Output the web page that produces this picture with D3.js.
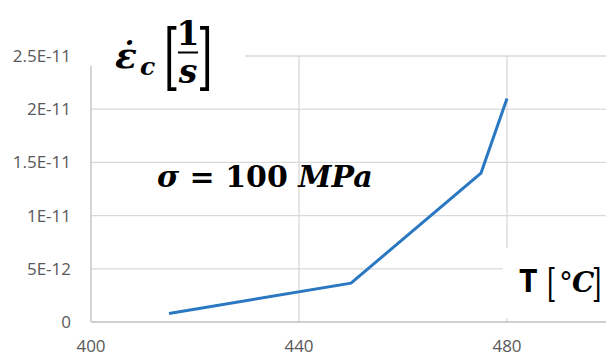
<!DOCTYPE html>
<html><head><meta charset="utf-8">
<script src="https://cdn.jsdelivr.net/npm/d3@7"></script>
<style>body{margin:0;background:#fff}svg{display:block}</style>
</head><body>
<script>
const temperatures = [415, 450, 475, 480];
const strainRates = [0.8e-12, 3.65e-12, 1.4e-11, 2.1e-11];
const yTicks = [0, 5e-12, 1e-11, 1.5e-11, 2e-11, 2.5e-11];
const yTickLabels = ["0", "5E-12", "1E-11", "1.5E-11", "2E-11", "2.5E-11"];
const xTicks = [400, 440, 480, 520];
const stressLabel = "σ = 100 MPa";

const W = 606, H = 356;
const svg = d3.select("body").append("svg").attr("width", W).attr("height", H);
const x = d3.scaleLinear().domain([400, 520]).range([91, 715]);
const y = d3.scaleLinear().domain([0, 2.5e-11]).range([322, 56]);
const right = W;

svg.append("defs").append("clipPath").attr("id","c").append("rect")
  .attr("x",0).attr("y",0).attr("width",W).attr("height",H);
const g = svg.append("g").attr("clip-path","url(#c)");

g.selectAll(".hg").data(yTicks.slice(1)).join("line")
  .attr("x1", x(400)).attr("x2", right).attr("y1", d=>y(d)).attr("y2", d=>y(d))
  .attr("stroke", "#d9d9d9").attr("stroke-width", 1.3);
g.selectAll(".vg").data(xTicks.slice(1)).join("line")
  .attr("x1", d=>x(d)).attr("x2", d=>x(d)).attr("y1", y(2.5e-11)).attr("y2", y(0))
  .attr("stroke", "#d9d9d9").attr("stroke-width", 1.3);
g.append("line").attr("x1", x(400)).attr("x2", x(400)).attr("y1", y(2.5e-11)).attr("y2", y(0))
  .attr("stroke", "#bfbfbf").attr("stroke-width", 1.3);
g.append("line").attr("x1", x(400)).attr("x2", right).attr("y1", y(0)).attr("y2", y(0))
  .attr("stroke", "#bfbfbf").attr("stroke-width", 1.3);

svg.selectAll(".yl").data(yTicks).join("text")
  .attr("x", 71).attr("y", d=>y(d)).attr("dy", "0.35em")
  .attr("text-anchor", "end").attr("font-family", "'Open Sans'").attr("font-size", 17)
  .attr("fill", "#595959").text((d,i)=>yTickLabels[i]);
svg.selectAll(".xl").data(xTicks.filter(d=>x(d)<W)).join("text")
  .attr("x", d=>x(d)).attr("y", 352)
  .attr("text-anchor", "middle").attr("font-family", "'Open Sans'").attr("font-size", 17)
  .attr("fill", "#595959").text(d=>d);

const line = d3.line().x((d,i)=>x(temperatures[i])).y(d=>y(d));
g.append("path").datum(strainRates).attr("d", line)
  .attr("fill","none").attr("stroke","#2a78c2").attr("stroke-width",3).attr("stroke-linejoin","miter");

svg.append("rect").attr("x", 89).attr("y", 0).attr("width", 156).attr("height", 66).attr("fill","#fff");
svg.append("rect").attr("x", 503).attr("y", 248).attr("width", 103).attr("height", 70).attr("fill","#fff");

const serif = "'DejaVu Serif'";
const yl = svg.append("g");
yl.append("text").attr("x", 115).attr("y", 68).attr("font-family", serif)
  .attr("font-weight","bold").attr("font-style","italic").attr("font-size", 36).text("ε\u0307");
yl.append("text").attr("x", 140).attr("y", 75).attr("font-family", serif)
  .attr("font-weight","bold").attr("font-style","italic").attr("font-size", 25).text("c");
yl.append("text").attr("transform","translate(164,81) scale(0.55,1)").attr("font-family", serif)
  .attr("font-size", 72).text("[");
yl.append("text").attr("transform","translate(197,81) scale(0.55,1)").attr("font-family", serif)
  .attr("font-size", 72).text("]");
yl.append("text").attr("x", 188).attr("y", 45).attr("text-anchor","middle").attr("font-family", serif)
  .attr("font-weight","bold").attr("font-size", 33).text("1");
yl.append("line").attr("x1",178).attr("x2",198).attr("y1",52.5).attr("y2",52.5).attr("stroke","#000").attr("stroke-width",2);
yl.append("text").attr("x", 188).attr("y", 83).attr("text-anchor","middle").attr("font-family", serif)
  .attr("font-weight","bold").attr("font-style","italic").attr("font-size", 33).text("s");

const sl = svg.append("text").attr("x", 157).attr("y", 187).attr("font-family", serif)
  .attr("font-weight","bold").attr("font-size", 30);
const parts = stressLabel.split(" ");
sl.append("tspan").attr("font-style","italic").text(parts[0] + " ");
sl.append("tspan").text(parts[1] + " " + parts[2] + " ");
sl.append("tspan").attr("font-style","italic").text(parts[3]);

const xl = svg.append("g");
xl.append("text").attr("x", 519).attr("y", 292).attr("font-family","'Open Sans'").attr("font-weight","bold")
  .attr("font-size", 32).text("T");
xl.append("text").attr("transform","translate(547,296) scale(0.6,1)").attr("font-family", serif)
  .attr("font-size", 40).text("[");
xl.append("text").attr("x", 559).attr("y", 292).attr("font-family", serif).attr("font-size", 28).text("°");
xl.append("text").attr("x", 572).attr("y", 292).attr("font-family", serif).attr("font-weight","bold")
  .attr("font-style","italic").attr("font-size", 28).text("C");
xl.append("text").attr("transform","translate(592,296) scale(0.6,1)").attr("font-family", serif)
  .attr("font-size", 40).text("]");
</script>
</body></html>
